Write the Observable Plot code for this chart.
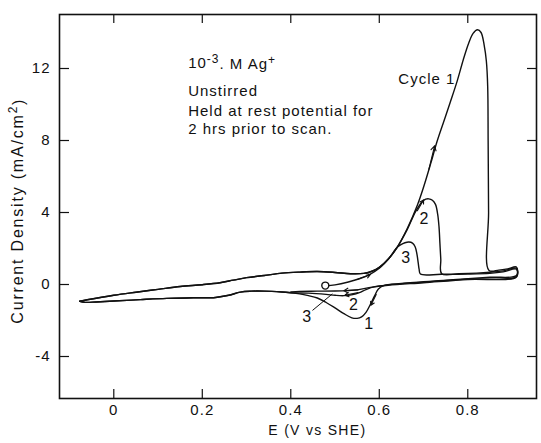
<!DOCTYPE html>
<html>
<head>
<meta charset="utf-8">
<script src="https://cdn.jsdelivr.net/npm/d3@7"></script>
<script src="https://cdn.jsdelivr.net/npm/@observablehq/plot@0.6"></script>
<style>
  html, body { margin: 0; padding: 0; background: #fff; }
  svg text { letter-spacing: 1px; }
</style>
</head>
<body>
<div id="chart"></div>
<script>
// ---- tick values ----
const E_TICKS = [0, 0.2, 0.4, 0.6, 0.8];
const I_TICKS = [-4, 0, 4, 8, 12];

// ---- curve segments, [E (V vs SHE), current density (mA/cm2)] ----
const c1Rise = [
  [0.478,-0.08],[0.50,-0.02],[0.53,0.14],[0.555,0.32],[0.578,0.55],[0.60,0.9],[0.62,1.4],
  [0.64,2.05],[0.663,3.1],[0.686,4.4],[0.70,5.4],[0.716,6.7],[0.73,7.9],[0.745,9.0],
  [0.76,10.1],[0.776,11.3],[0.79,12.5],[0.802,13.4],[0.812,13.95],[0.822,14.15],[0.83,14.0],
  [0.837,13.3],[0.842,12.4],[0.845,11.0],[0.846,8.0],[0.847,4.0],[0.848,0.78],[0.87,0.8],
  [0.89,0.87],[0.91,0.97]
];
const c1Fall = [
  [0.91,0.5],[0.85,0.4],[0.75,0.24],[0.65,0.06],[0.61,-0.06],[0.598,-0.25],[0.59,-0.6],
  [0.58,-1.1],[0.57,-1.55],[0.56,-1.8],[0.55,-1.88],[0.538,-1.85],[0.52,-1.62],[0.50,-1.3],
  [0.48,-1.0],[0.46,-0.75],[0.44,-0.62],[0.42,-0.52],[0.40,-0.46]
];
const lowerBranch = [
  [0.40,-0.46],[0.38,-0.42],[0.34,-0.37],[0.31,-0.37],[0.286,-0.42],[0.26,-0.6],[0.23,-0.72],
  [0.18,-0.74],[0.12,-0.77],[0.06,-0.84],[0.0,-0.92],[-0.04,-0.97],[-0.065,-0.99],[-0.077,-0.93]
];
const upperBranch = [
  [-0.077,-0.93],[-0.06,-0.85],[0.0,-0.6],[0.05,-0.43],[0.10,-0.27],[0.15,-0.11],[0.20,-0.01],
  [0.24,0.1],[0.27,0.24],[0.30,0.38],[0.34,0.5],[0.38,0.63],[0.42,0.69],[0.46,0.72],
  [0.50,0.67],[0.535,0.6],[0.565,0.62],[0.585,0.75],[0.60,0.95],[0.62,1.4],[0.64,2.05]
];
const c2Rise = [
  [0.663,3.05],[0.682,4.05],[0.697,4.6],[0.705,4.74],[0.712,4.76],[0.72,4.68],[0.727,4.45],
  [0.732,3.9],[0.735,3.2],[0.737,2.3],[0.739,1.4],[0.741,0.6],[0.78,0.6],[0.82,0.63],
  [0.85,0.68],[0.88,0.76],[0.91,0.9]
];
const c2Fall = [
  [0.91,0.45],[0.80,0.3],[0.70,0.13],[0.62,-0.02],[0.59,-0.12],[0.57,-0.28],[0.555,-0.45],
  [0.54,-0.56],[0.52,-0.62],[0.50,-0.6],[0.48,-0.55],[0.44,-0.48],[0.40,-0.46]
];
const c3Rise = [
  [0.648,2.2],[0.658,2.32],[0.667,2.36],[0.675,2.3],[0.681,2.1],[0.685,1.7],[0.688,1.2],
  [0.69,0.85],[0.693,0.58],[0.74,0.57],[0.80,0.58],[0.85,0.62],[0.88,0.7],[0.91,0.85]
];
const c3Fall = [
  [0.91,0.42],[0.80,0.28],[0.70,0.1],[0.62,-0.04],[0.58,-0.16],[0.55,-0.3],[0.527,-0.34],
  [0.50,-0.36],[0.46,-0.37],[0.42,-0.38],[0.40,-0.42]
];

// rest potential marker
const restPoint = [[0.478, -0.06]];

// direction arrows [E1, I1, E2, I2]
const arrows = [
  [0.552, 0.3, 0.58, 0.56],
  [0.712, 6.4, 0.725, 7.7],
  [0.686, 4.1, 0.70, 4.7],
  [0.593, -0.55, 0.581, -1.15],
  [0.552, -0.3, 0.52, -0.35],
  [0.552, -0.45, 0.522, -0.6]
];

// in-plot labels
const cycleLabel = [{E: 0.643, I: 11.4, text: "Cycle 1"}];
const labels = [
  {E: 0.702, I: 3.65, text: "2"},
  {E: 0.661, I: 1.5, text: "3"},
  {E: 0.543, I: -1.15, text: "2"},
  {E: 0.577, I: -2.2, text: "1"},
  {E: 0.437, I: -1.8, text: "3"}
];
const leader = [[0.449, -1.44, 0.494, -0.52]];

const notes = [
  {I: 12.3, text: "10⁻³. M Ag⁺"},
  {I: 10.75, text: "Unstirred"},
  {I: 9.65, text: "Held at rest potential for"},
  {I: 8.65, text: "2 hrs prior to scan."}
];
const notesE = 0.168;
const yTitle = "Current Density (mA/cm²)";
const xTitle = "E (V vs SHE)";

// ---- build rows ----
const toRows = (pts, cycle) => pts.map(([E, I]) => ({E, I, cycle}));
const rows = [
  ...toRows([...c1Rise, ...c1Fall, ...lowerBranch], "1"),
  ...toRows([...upperBranch, ...c2Rise, ...c2Fall, ...lowerBranch], "2"),
  ...toRows([...upperBranch, ...c3Rise, ...c3Fall], "3")
];

const W = 541, H = 443;
const mL = 59, mR = 5, mT = 14, mB = 45;
const innerW = W - mL - mR, innerH = H - mT - mB;
const font = "'Liberation Sans', Arial, sans-serif";

const chart = Plot.plot({
  width: W,
  height: H,
  marginLeft: mL,
  marginRight: mR,
  marginTop: mT,
  marginBottom: mB,
  style: {fontFamily: font, fontSize: "15px", background: "#fff", color: "#111"},
  x: {domain: [-0.1227, 0.9553]},
  y: {domain: [-6.333, 15.0]},
  marks: [
    Plot.frame({stroke: "#111", strokeWidth: 1.6}),
    Plot.tickX(E_TICKS, {x: d => d, insetTop: innerH - 9, stroke: "#111", strokeWidth: 1.2}),
    Plot.tickX(E_TICKS, {x: d => d, insetBottom: innerH - 9, stroke: "#111", strokeWidth: 1.2}),
    Plot.tickY(I_TICKS, {y: d => d, insetRight: innerW - 10, stroke: "#111", strokeWidth: 1.2}),
    Plot.tickY(I_TICKS, {y: d => d, insetLeft: innerW - 9, stroke: "#111", strokeWidth: 1.2}),
    Plot.axisX({ticks: E_TICKS, tickSize: 0, tickPadding: 6, tickFormat: d => d === 0 ? "0" : String(d), label: null, fontSize: 15}),
    Plot.axisY({ticks: I_TICKS, tickSize: 0, tickPadding: 9, tickFormat: d => String(d), label: null, fontSize: 15}),
    Plot.line(rows, {x: "E", y: "I", z: "cycle", curve: "catmull-rom", stroke: "#111", strokeWidth: 1.4}),
    Plot.dot(restPoint, {x: d => d[0], y: d => d[1], r: 3.5, stroke: "#111", strokeWidth: 1.4, fill: "white"}),
    Plot.arrow(arrows, {x1: d => d[0], y1: d => d[1], x2: d => d[2], y2: d => d[3], stroke: "#111", strokeWidth: 1.1, headLength: 7}),
    Plot.link(leader, {x1: d => d[0], y1: d => d[1], x2: d => d[2], y2: d => d[3], stroke: "#111", strokeWidth: 1}),
    Plot.text(cycleLabel, {x: "E", y: "I", text: "text", textAnchor: "start", fontSize: 15, fill: "#111"}),
    Plot.text(labels, {x: "E", y: "I", text: "text", textAnchor: "middle", fontSize: 16, fill: "#111"}),
    Plot.text(notes, {x: () => notesE, y: "I", text: "text", textAnchor: "start", fontSize: 15, fill: "#111"}),
    Plot.text([yTitle], {frameAnchor: "left", y: () => 4.1, dx: -42, rotate: -90, textAnchor: "middle", text: d => d, fontSize: 16, fill: "#111"}),
    Plot.text([xTitle], {x: () => 0.46, frameAnchor: "bottom", dy: 36, textAnchor: "middle", text: d => d, fontSize: 14, fill: "#111"})
  ]
});

// superscripts as real tspans
d3.select(chart).selectAll("text").each(function() {
  const t = d3.select(this);
  const s = this.textContent;
  if (s === notes[0].text) {
    t.text(null);
    t.append("tspan").text("10");
    t.append("tspan").attr("dy", "-0.45em").attr("font-size", "12").text("-3");
    t.append("tspan").attr("dy", "0.45em").text(". M Ag");
    t.append("tspan").attr("dy", "-0.45em").attr("font-size", "12").text("+");
  } else if (s === yTitle) {
    t.style("letter-spacing", "1.8px");
    t.text(null);
    t.append("tspan").text("Current Density (mA/cm");
    t.append("tspan").attr("dy", "-0.45em").attr("font-size", "12").text("2");
    t.append("tspan").attr("dy", "0.45em").text(")");
  } else if (s === xTitle) {
    t.style("letter-spacing", "1.3px");
  }
});
document.getElementById("chart").appendChild(chart);
</script>
</body>
</html>
